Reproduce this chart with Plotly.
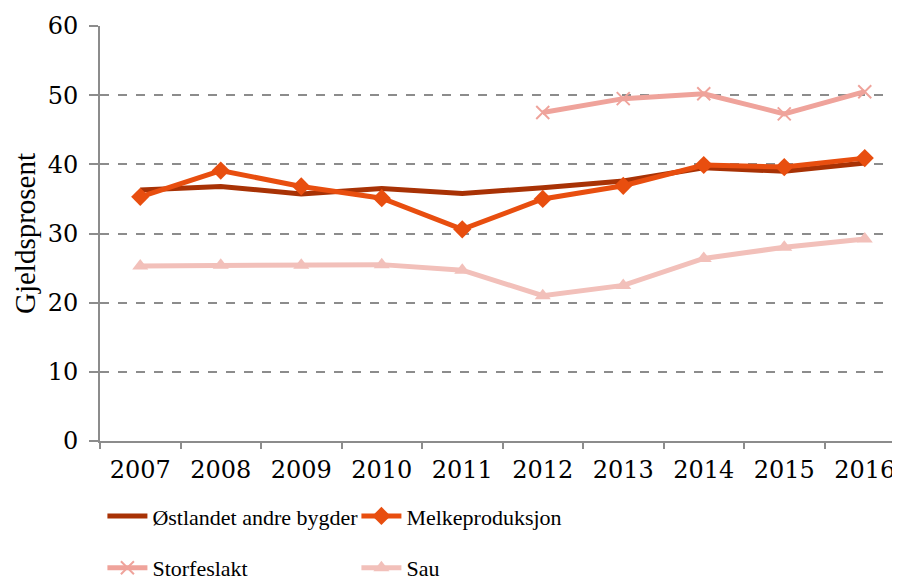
import plotly.graph_objects as go

years = ["2007", "2008", "2009", "2010", "2011", "2012", "2013", "2014", "2015", "2016"]
ostlandet = [36.3, 36.8, 35.7, 36.5, 35.8, 36.6, 37.6, 39.5, 39.0, 40.2]
melk = [35.3, 39.1, 36.8, 35.1, 30.6, 35.0, 36.9, 39.9, 39.6, 40.9]
storfe = [None, None, None, None, None, 47.5, 49.5, 50.2, 47.3, 50.5]
sau = [25.3, 25.4, 25.4, 25.5, 24.7, 21.0, 22.5, 26.4, 28.0, 29.2]

font = "Liberation Serif"
tickfont = "DejaVu Serif"

fig = go.Figure()
fig.add_trace(go.Scatter(x=years, y=ostlandet, name="Østlandet andre bygder", mode="lines",
                         line=dict(color="#A83205", width=5), legend="legend"))
fig.add_trace(go.Scatter(x=years, y=melk, name="Melkeproduksjon", mode="lines+markers",
                         line=dict(color="#E84E0F", width=5),
                         marker=dict(symbol="diamond", size=14, color="#E84E0F"),
                         legend="legend"))
fig.add_trace(go.Scatter(x=years, y=storfe, name="Storfeslakt", mode="lines+markers",
                         line=dict(color="#EFA39B", width=5),
                         marker=dict(symbol="x-thin", size=13, color="#EFA39B",
                                     line=dict(color="#EFA39B", width=2)),
                         legend="legend2"))
fig.add_trace(go.Scatter(x=years, y=sau, name="Sau", mode="lines+markers",
                         line=dict(color="#F2C0BA", width=5),
                         marker=dict(symbol="triangle-up", size=14, color="#F2C0BA"),
                         legend="legend2"))

# two legend rows, wide gap between them like the original
leg = dict(orientation="h", x=0.003, xanchor="left", yanchor="middle",
           entrywidth=199, entrywidthmode="pixels", itemwidth=40,
           font=dict(family=font, size=22), bgcolor="rgba(0,0,0,0)")

# page has an 8px body margin, so the figure is a bit taller than the window
fig.update_layout(
    width=900, height=590,
    paper_bgcolor="white", plot_bgcolor="white",
    margin=dict(l=92, r=3, t=18, b=157),
    font=dict(family=font, size=22, color="black"),
    showlegend=True,
    legend=dict(leg, y=-0.181),
    legend2=dict(leg, y=-0.306),
    xaxis=dict(type="category", range=[-0.5, 9.5], showline=True, linecolor="#8c8c8c",
               linewidth=2, ticks="outside", tickson="boundaries", tickcolor="#8c8c8c",
               ticklen=6, tickwidth=1.5, showgrid=False, automargin=False,
               ticklabelstandoff=6,
               tickfont=dict(family=tickfont, size=24, color="black")),
    yaxis=dict(range=[0, 60], dtick=10, showline=True, linecolor="#8c8c8c", linewidth=2,
               ticks="outside", tickcolor="#8c8c8c", ticklen=9, tickwidth=1.5,
               showgrid=True, gridcolor="#8c8c8c", griddash="dash", gridwidth=1.5,
               zeroline=False, automargin=False, ticklabelstandoff=6,
               tickfont=dict(family=tickfont, size=24, color="black"),
               title=dict(text="Gjeldsprosent", font=dict(family=font, size=29), standoff=4)),
)

fig.write_html("out.html")
